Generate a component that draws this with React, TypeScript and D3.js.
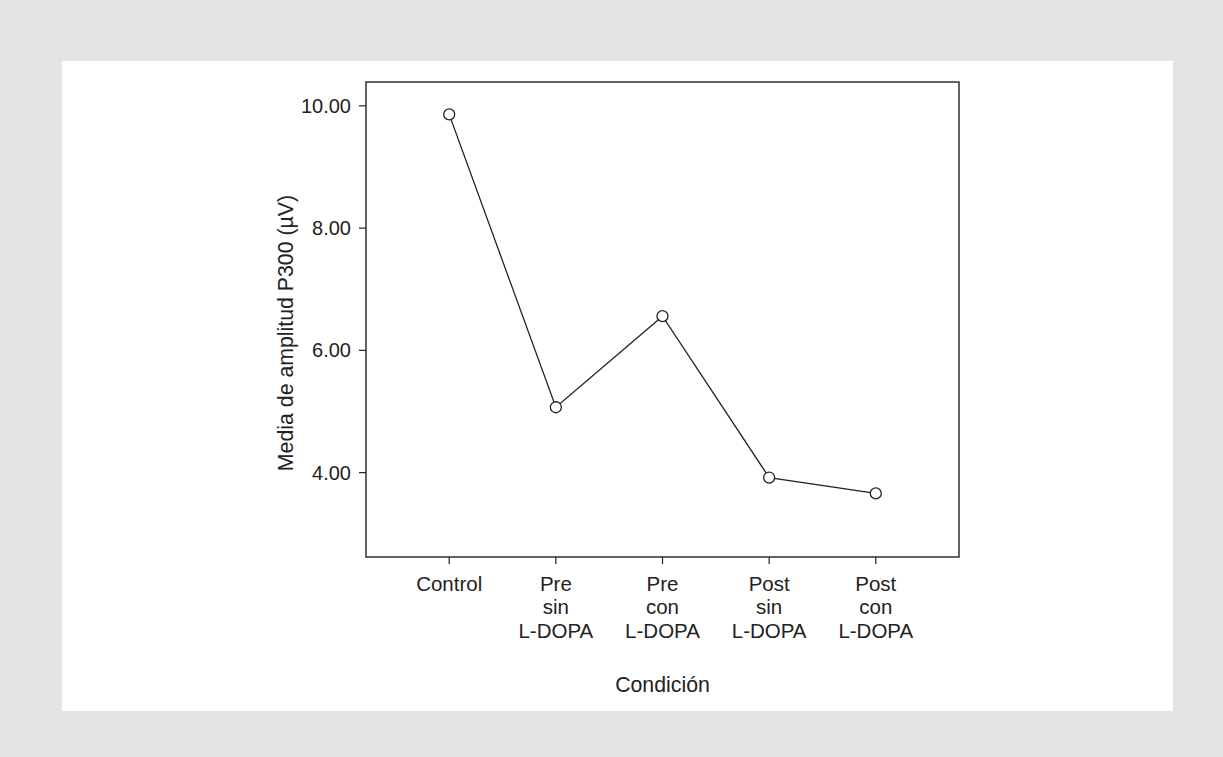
import * as d3 from "d3";

const categories: string[][] = [
  ["Control"],
  ["Pre", "sin", "L-DOPA"],
  ["Pre", "con", "L-DOPA"],
  ["Post", "sin", "L-DOPA"],
  ["Post", "con", "L-DOPA"],
];
const meanAmplitude = [9.86, 5.07, 6.56, 3.92, 3.66];
const yTicks = [4, 6, 8, 10];

const W = 1223;
const H = 757;
const frame = { left: 366, right: 959, top: 82, bottom: 557 };
const ink = "#222";
const font = "'Liberation Sans', Arial, Helvetica, sans-serif";

export default function App() {
  const x = d3
    .scalePoint<number>()
    .domain(d3.range(categories.length))
    .range([frame.left, frame.right])
    .padding(0.78);

  const y = d3.scaleLinear().domain([2.62, 10.39]).range([frame.bottom, frame.top]);

  const line = d3
    .line<number>()
    .x((_, i) => x(i)!)
    .y((d) => y(d));

  return (
    <svg
      width={W}
      height={H}
      style={{ position: "absolute", left: 0, top: 0, display: "block" }}
      fontFamily={font}
    >
      <rect width={W} height={H} fill="#e4e4e2" />
      <rect x={62} y={61} width={1111} height={650} fill="#fff" />

      {/* frame */}
      <rect
        x={frame.left}
        y={frame.top}
        width={frame.right - frame.left}
        height={frame.bottom - frame.top}
        fill="none"
        stroke={ink}
        strokeWidth={1.4}
      />

      {/* y axis */}
      {yTicks.map((t) => (
        <g key={t}>
          <line x1={frame.left - 7} x2={frame.left} y1={y(t)} y2={y(t)} stroke={ink} strokeWidth={1.2} />
          <text
            x={frame.left - 15}
            y={y(t)}
            textAnchor="end"
            dominantBaseline="central"
            fontSize={20}
            fill={ink}
          >
            {t.toFixed(2)}
          </text>
        </g>
      ))}
      <text
        transform={`translate(286,${333}) rotate(-90)`}
        textAnchor="middle"
        dominantBaseline="central"
        fontSize={21.3}
        fill={ink}
      >
        Media de amplitud P300 (µV)
      </text>

      {/* x axis */}
      {categories.map((lines, i) => (
        <g key={i}>
          <line x1={x(i)} x2={x(i)} y1={frame.bottom} y2={frame.bottom + 7} stroke={ink} strokeWidth={1.2} />
          {lines.map((s, j) => (
            <text
              key={j}
              x={x(i)}
              y={583 + j * 23.5}
              textAnchor="middle"
              dominantBaseline="central"
              fontSize={20.5}
              fill={ink}
            >
              {s}
            </text>
          ))}
        </g>
      ))}
      <text
        x={(frame.left + frame.right) / 2}
        y={685}
        textAnchor="middle"
        dominantBaseline="central"
        fontSize={21.3}
        fill={ink}
      >
        Condición
      </text>

      {/* series */}
      <path d={line(meanAmplitude) ?? ""} fill="none" stroke={ink} strokeWidth={1.3} />
      {meanAmplitude.map((v, i) => (
        <circle key={i} cx={x(i)} cy={y(v)} r={5.5} fill="#fff" stroke={ink} strokeWidth={1.3} />
      ))}
    </svg>
  );
}
